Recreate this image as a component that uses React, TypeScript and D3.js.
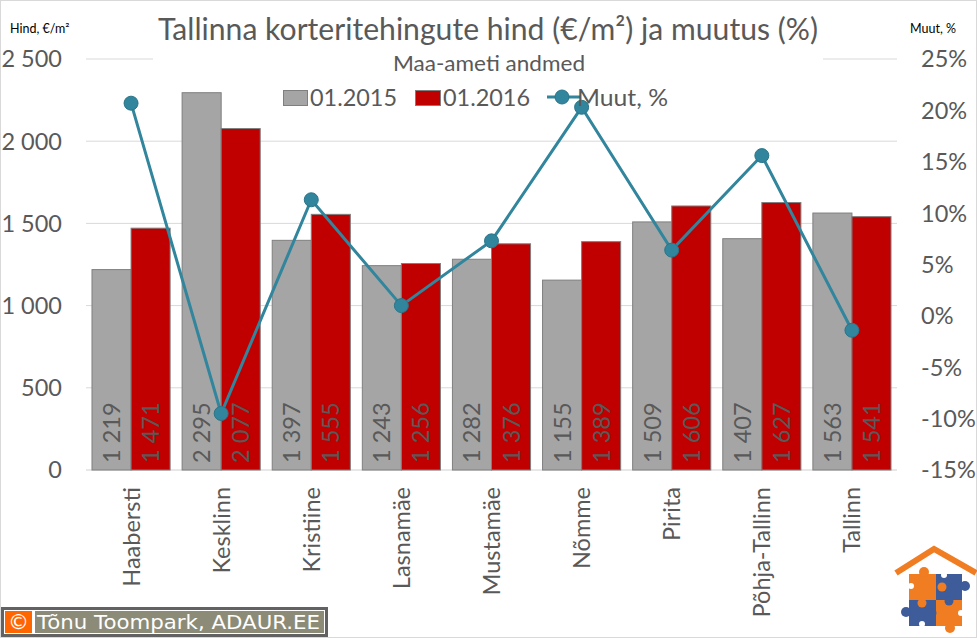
import React from 'react';
import * as d3 from 'd3';

// Maa-ameti andmed, Tallinn districts
const districts = ['Haabersti', 'Kesklinn', 'Kristiine', 'Lasnamäe', 'Mustamäe', 'Nõmme', 'Pirita', 'Põhja-Tallinn', 'Tallinn'];
const price2015 = [1219, 2295, 1397, 1243, 1282, 1155, 1509, 1407, 1563];
const price2016 = [1471, 2077, 1555, 1256, 1376, 1389, 1606, 1627, 1541];
const changePct = [20.7, -9.5, 11.3, 1.0, 7.3, 20.3, 6.4, 15.6, -1.4];
const priceTicks = [0, 500, 1000, 1500, 2000, 2500];
const pctTicks = [-15, -10, -5, 0, 5, 10, 15, 20, 25];

const FONT = 'Lato, "Open Sans", sans-serif';
const GREY = '#A5A5A5';
const RED = '#C00000';
const TEAL = '#31859C';
const TXT = '#595959';

const fmt = d3.formatLocale({ decimal: ',', thousands: ' ', grouping: [3], currency: ['', ''] }).format(',d');

export default function App() {
  const W = 977;
  const H = 638;
  const left = 86;
  const right = 897;
  const top = 59;
  const bottom = 470;

  const x = d3.scaleBand<string>().domain(districts).range([left, right]).paddingInner(0.133).paddingOuter(0.0665);
  const y = d3.scaleLinear().domain([0, 2500]).range([bottom, top]);
  const y2 = d3.scaleLinear().domain([-15, 25]).range([bottom, top]);
  const bw = x.bandwidth() / 2;
  const cx = (d: string) => (x(d) as number) + x.bandwidth() / 2;

  const line = d3.line<number>()
    .x((_, i) => cx(districts[i]))
    .y((v) => y2(v));

  return (
    <svg width={W} height={H} style={{ position: 'absolute', left: 0, top: 0, display: 'block', background: '#fff' }} fontFamily={FONT}>
      <rect x={0.5} y={0.5} width={W - 1} height={H - 1} fill="#fff" stroke="#D9D9D9" />

      {/* gridlines */}
      {priceTicks.map((t) => (
        <line key={t} x1={left} x2={right} y1={y(t)} y2={y(t)} stroke={t === 0 ? '#D0D0D0' : '#D9D9D9'} strokeWidth={1} />
      ))}

      {/* title block covers the top gridline */}
      <rect x={153} y={8} width={670} height={54} fill="#fff" />
      <text x={488} y={40} textAnchor="middle" fontSize={30} fill={TXT} textLength={660} lengthAdjust="spacingAndGlyphs">
        Tallinna korteritehingute hind (€/m²) ja muutus (%)
      </text>
      <text x={489} y={71} textAnchor="middle" fontSize={20.5} fill={TXT} textLength={192} lengthAdjust="spacingAndGlyphs">Maa-ameti andmed</text>

      {/* axis unit labels */}
      <text x={10} y={33} fontSize={12.5} fill="#000">Hind, €/m²</text>
      <text x={910} y={33} fontSize={12.5} fill="#000">Muut, %</text>

      {/* left axis */}
      {priceTicks.map((t) => (
        <text key={t} x={62} y={y(t)} dy="0.36em" textAnchor="end" fontSize={23.5} fill={TXT}>{fmt(t)}</text>
      ))}
      {/* right axis */}
      {pctTicks.map((t) => (
        <text key={t} x={921} y={y2(t)} dy="0.36em" textAnchor="start" fontSize={23.5} fill={TXT}>{`${t}%`}</text>
      ))}

      {/* bars */}
      {districts.map((d, i) => {
        const x0 = x(d) as number;
        return (
          <g key={d}>
            <rect x={x0} y={y(price2015[i])} width={bw} height={bottom - y(price2015[i])} fill={GREY} stroke="#7F7F7F" strokeWidth={1} />
            <rect x={x0 + bw} y={y(price2016[i])} width={bw} height={bottom - y(price2016[i])} fill={RED} stroke="#7F7F7F" strokeWidth={1} />
            <text transform={`translate(${x0 + bw / 2},463) rotate(-90)`} dy="0.36em" fontSize={23.5} fill={TXT}>{fmt(price2015[i])}</text>
            <text transform={`translate(${x0 + bw * 1.5},463) rotate(-90)`} dy="0.36em" fontSize={23.5} fill={TXT}>{fmt(price2016[i])}</text>
            <text transform={`translate(${cx(d)},487) rotate(-90)`} dy="0.36em" textAnchor="end" fontSize={23.5} fill={TXT}>{d}</text>
          </g>
        );
      })}

      {/* change line */}
      <path d={line(changePct) as string} fill="none" stroke={TEAL} strokeWidth={3} />
      {changePct.map((v, i) => (
        <circle key={i} cx={cx(districts[i])} cy={y2(v)} r={7} fill={TEAL} stroke="#2A7589" strokeWidth={1} />
      ))}

      {/* legend */}
      <rect x={283.5} y={90.5} width={24} height={15} fill={GREY} stroke="#7F7F7F" />
      <text x={310} y={106} fontSize={23} fill={TXT} textLength={87} lengthAdjust="spacingAndGlyphs">01.2015</text>
      <rect x={415.5} y={90.5} width={25} height={15} fill={RED} stroke="#7F7F7F" />
      <text x={443} y={106} fontSize={23} fill={TXT} textLength={87} lengthAdjust="spacingAndGlyphs">01.2016</text>
      <line x1={547} x2={580} y1={97} y2={97} stroke={TEAL} strokeWidth={3} />
      <circle cx={562} cy={97} r={7} fill={TEAL} stroke="#2A7589" />
      <text x={577} y={106} fontSize={23} fill={TXT} textLength={91} lengthAdjust="spacingAndGlyphs">Muut, %</text>

      {/* copyright */}
      <rect x={1} y={607} width={327} height={30} fill="#626262" />
      <rect x={4} y={610} width={321} height={24} fill="#fff" />
      <rect x={5} y={611} width={319} height={22} fill="#8C8B78" />
      <rect x={5} y={611} width={27} height={22} fill="#FF6600" />
      <rect x={32} y={611} width={3} height={22} fill="#fff" />
      <text x={18.5} y={629} textAnchor="middle" fontSize={21} fill="#fff" fontFamily="DejaVu Sans">©</text>
      <text x={37} y={629} fontSize={20} fill="#fff" fontFamily="DejaVu Sans" textLength={283} lengthAdjust="spacingAndGlyphs">Tõnu Toompark, ADAUR.EE</text>

      {/* logo */}
      <g>
        <polyline points="896,573 934,549 976,573" fill="none" stroke="#F07D22" strokeWidth={6} />
        <rect x={909} y={574} width={27} height={26} fill="#F07D22" />
        <rect x={936} y={574} width={26} height={26} fill="#3E5C9A" />
        <rect x={909} y={600} width={27} height={26} fill="#3E5C9A" />
        <rect x={936} y={600} width={26} height={26} fill="#F07D22" />
        <circle cx={924} cy={572} r={5} fill="#F07D22" />
        <circle cx={965} cy={586} r={5} fill="#3E5C9A" />
        <circle cx={906} cy={612} r={5} fill="#3E5C9A" />
        <circle cx={950} cy={628} r={5} fill="#F07D22" />
        <circle cx={942} cy={587} r={4.5} fill="#F07D22" />
        <circle cx={922} cy={603} r={4.5} fill="#F07D22" />
        <circle cx={949} cy={601} r={4.5} fill="#3E5C9A" />
        <circle cx={932} cy={613} r={4.5} fill="#3E5C9A" />
        <circle cx={911} cy={586} r={3} fill="#fff" />
        <circle cx={944} cy={575} r={3} fill="#fff" />
        <circle cx={922} cy={624} r={3} fill="#fff" />
        <circle cx={961} cy={613} r={3} fill="#fff" />
      </g>
    </svg>
  );
}
